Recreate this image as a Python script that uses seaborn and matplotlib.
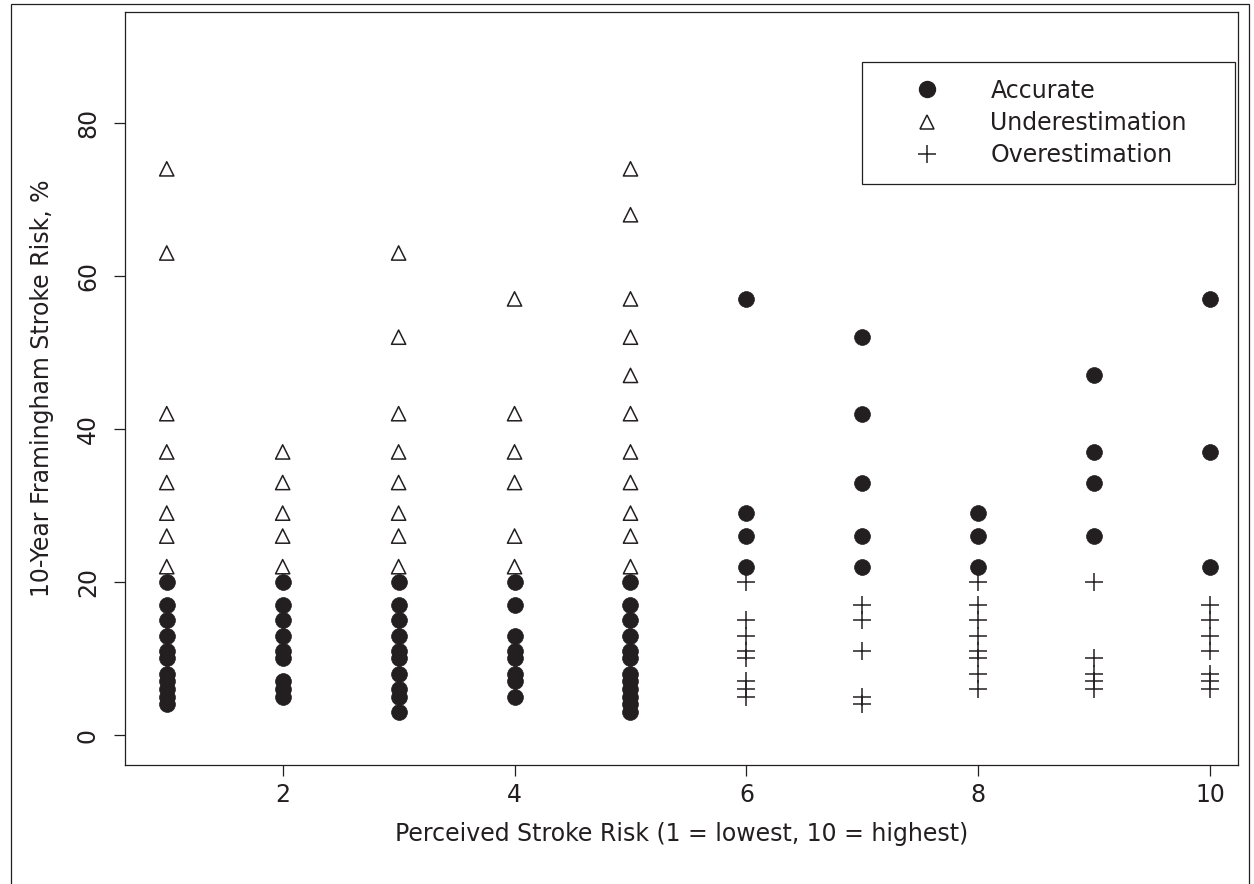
import matplotlib
matplotlib.use("Agg")
import matplotlib.pyplot as plt
import seaborn as sns
import pandas as pd
from matplotlib.lines import Line2D
from matplotlib.patches import Rectangle

# ---- data ----
perceived = [1, 2, 3, 4, 5, 6, 7, 8, 9, 10]
accurate = {
    1: [20, 17, 15, 13, 11, 10, 8, 7, 6, 5, 4],
    2: [20, 17, 15, 13, 11, 10, 7, 6, 5],
    3: [20, 17, 15, 13, 11, 10, 8, 6, 5, 3],
    4: [20, 17, 13, 11, 10, 8, 7, 5],
    5: [20, 17, 15, 13, 11, 10, 8, 7, 6, 5, 4, 3],
    6: [57, 29, 26, 22],
    7: [52, 42, 33, 26, 22],
    8: [29, 26, 22],
    9: [47, 37, 33, 26],
    10: [57, 37, 22],
}
underestimation = {
    1: [74, 63, 42, 37, 33, 29, 26, 22],
    2: [37, 33, 29, 26, 22],
    3: [63, 52, 42, 37, 33, 29, 26, 22],
    4: [57, 42, 37, 33, 26, 22],
    5: [74, 68, 57, 52, 47, 42, 37, 33, 29, 26, 22],
}
overestimation = {
    6: [20, 15, 13, 11, 10, 7, 6, 5],
    7: [17, 15, 11, 5, 4],
    8: [20, 17, 15, 13, 11, 10, 8, 6],
    9: [20, 10, 8, 7, 6],
    10: [17, 15, 13, 11, 8, 7, 6],
}
group_names = ["Accurate", "Underestimation", "Overestimation"]
x_label = "Perceived Stroke Risk (1 = lowest, 10 = highest)"
y_label = "10-Year Framingham Stroke Risk, %"
x_ticks = [2, 4, 6, 8, 10]
y_ticks = [0, 20, 40, 60, 80]


def to_frame(d, name):
    rows = [(k, v, name) for k, vals in d.items() for v in vals]
    return pd.DataFrame(rows, columns=["perceived", "risk", "group"])


df = pd.concat([to_frame(accurate, group_names[0]),
                to_frame(underestimation, group_names[1]),
                to_frame(overestimation, group_names[2])], ignore_index=True)

# ---- style ----
sns.set_style("white")
plt.rcParams["font.family"] = ["DejaVu Sans"]
FS = 17
INK = "#231f20"

fig = plt.figure(figsize=(12.54, 8.84), dpi=100)
ax = fig.add_axes([125 / 1254, 1 - 765 / 884, (1238 - 125) / 1254, (765 - 12) / 884])

sub = df[df.group == group_names[0]]
sns.scatterplot(data=sub, x="perceived", y="risk", marker="o", s=130,
                color=INK, edgecolor=INK, linewidth=0.5, ax=ax, legend=False, zorder=3)
sub = df[df.group == group_names[1]]
sns.scatterplot(data=sub, x="perceived", y="risk", marker="^", s=105,
                facecolor="none", edgecolor=INK, linewidth=1.1, ax=ax, legend=False, zorder=3)
sub = df[df.group == group_names[2]]
sns.scatterplot(data=sub, x="perceived", y="risk", marker="+", s=160,
                color=INK, linewidth=1.1, ax=ax, legend=False, zorder=3)

ax.set_xlim(0.64, 10.24)
ax.set_ylim(-3.92, 94.5)
ax.set_xticks(x_ticks)
ax.set_yticks(y_ticks)
ax.set_xticklabels([str(t) for t in x_ticks], fontsize=FS, color=INK)
ax.set_yticklabels([str(t) for t in y_ticks], fontsize=FS, color=INK,
                   rotation=90, va="center")
ax.tick_params(axis="both", direction="out", length=8, width=0.9,
               color=INK, bottom=True, left=True)
ax.tick_params(axis="y", pad=10)
ax.tick_params(axis="x", pad=5)
for s in ax.spines.values():
    s.set_visible(True)
    s.set_color(INK)
    s.set_linewidth(0.9)

ax.set_xlabel(x_label, fontsize=FS, color=INK, labelpad=11)
ax.set_ylabel(y_label, fontsize=FS, color=INK, labelpad=16)

handles = [
    Line2D([], [], marker="o", linestyle="none", markersize=11.5,
           markerfacecolor=INK, markeredgecolor=INK),
    Line2D([], [], marker="^", linestyle="none", markersize=10,
           markerfacecolor="none", markeredgecolor=INK, markeredgewidth=1.1),
    Line2D([], [], marker="+", linestyle="none", markersize=13,
           markeredgecolor=INK, markeredgewidth=1.1),
]
leg = ax.legend(handles, group_names, loc="upper left",
                bbox_to_anchor=(0.662, 0.777, 0.335, 0.157), mode="expand",
                fontsize=FS, frameon=True, fancybox=False, framealpha=1,
                edgecolor=INK, borderpad=0.72, handlelength=4.11,
                handletextpad=0.62, labelspacing=0.35, borderaxespad=0)
leg.get_frame().set_linewidth(0.9)
for t in leg.get_texts():
    t.set_color(INK)

# outer figure border
fig.patches.append(Rectangle((11 / 1254, -0.02), (1249 - 11) / 1254, 1.02 - 4 / 884,
                             transform=fig.transFigure, fill=False,
                             edgecolor=INK, linewidth=0.9))

fig.savefig("out.png", dpi=100)
